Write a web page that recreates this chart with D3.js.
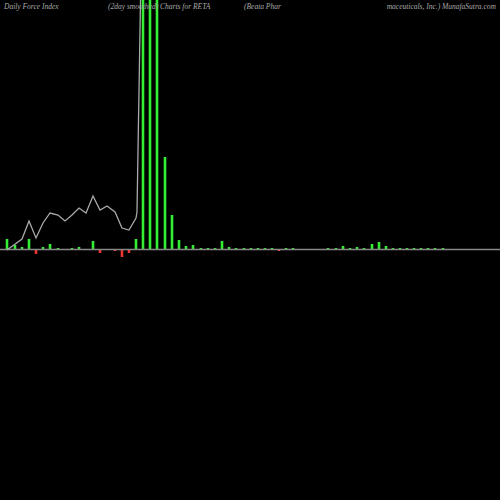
<!DOCTYPE html><html><head><script src="https://cdn.jsdelivr.net/npm/d3@7"></script>
<style>body{margin:0;background:#000}</style></head><body><svg id="c" width="500" height="500"></svg>
<script>
const barX=[7,15,22,29,36,43,50,58,65,72,79,86,93,100,107,115,122,129,136,143,150,157,165,172,179,186,193,201,208,215,222,229,236,244,251,258,265,272,279,286,293,300,307,314,321,328,336,343,350,357,364,372,379,386,393,400,407,414,421,428,435,443];
const barV=[10,4,2,10,-5,2,5,1,-1,1,2,-1,8,-4,-1,-2,-8,-4,10,400,400,400,92,34,9,3,4,1,1,1,8,2,1,1,1,1,1,1,-2,1,1,-1,-1,-1,-1,1,1,3,1,2,1,5,7,3,1,1,1,1,1,1,1,1];
const lineX=[7,22,29,36,43,50,58,65,72,79,86,93,100,107,115,122,129,136,137,143];
const lineV=[-1,10,28,11,26,36,34,28,34,41,36,53,39,43,37,21,19,31,37,400];
const titles=[["Daily Force  Index",4,"start"],["(2day smoothed) Charts for RETA",108,"start"],["(Beata  Phar",244,"start"],["maceuticals,  Inc.) MunafaSutra.com",496,"end"]];
const svg=d3.select("#c");
const x=d3.scaleLinear().domain([0,500]).range([0,500]);
const y=d3.scaleLinear().domain([0,249]).range([249,0]);
svg.append("rect").attr("width",500).attr("height",500).attr("fill","#000");
svg.append("g").selectAll("rect").data(barV).join("rect")
 .attr("x",(d,i)=>x(barX[i])-1.3).attr("width",2.6)
 .attr("y",d=>d>0?Math.max(0,y(d)):y(0))
 .attr("height",d=>d>0?y(0)-Math.max(0,y(d)):y(d)-y(0))
 .attr("fill",d=>d>=0?"#33ee33":"#ee3333");
svg.append("line").attr("x1",0).attr("x2",500).attr("y1",y(0)+0.5).attr("y2",y(0)+0.5).attr("stroke","#888").attr("stroke-width",1.5);
svg.append("path").datum(lineV).attr("fill","none").attr("stroke","#aaa").attr("stroke-width",1.3)
 .attr("d",d3.line().x((d,i)=>x(lineX[i])).y(d=>y(d)));
svg.selectAll("text.t").data(titles).join("text").attr("x",d=>d[1]).attr("y",9).attr("text-anchor",d=>d[2])
 .attr("fill","#aaa").attr("font-family","Liberation Serif").attr("font-style","italic").attr("font-size",7.5).text(d=>d[0]);
</script></body></html>
